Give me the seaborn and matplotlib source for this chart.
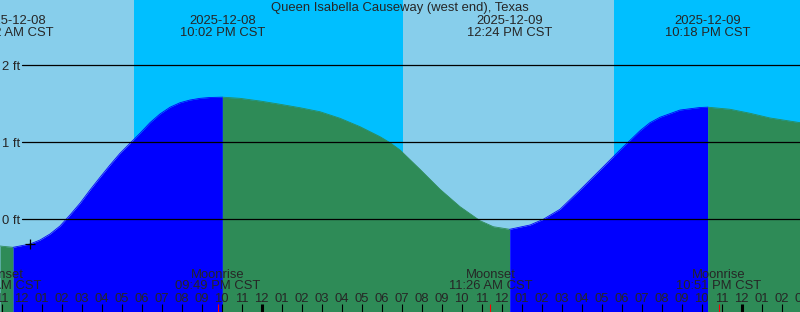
import numpy as np
import pandas as pd
import matplotlib
matplotlib.use("Agg")
import matplotlib.pyplot as plt
import matplotlib.transforms as mtransforms
import seaborn as sns

# ---------------- data ----------------
title = "Queen Isabella Causeway (west end), Texas"

# time axis: hours since 2025-12-08 12:00 PM CST
tide_hours = [-1.085, -0.43, 0.415, 0.915, 1.415, 1.915, 2.415, 2.915, 3.415, 3.915,
              4.415, 4.915, 5.415, 5.915, 6.415, 6.915, 7.415, 7.915, 8.415, 8.915,
              9.415, 10.033, 10.915, 11.915, 12.915, 13.915, 14.915, 15.915, 16.915,
              17.915, 18.415, 18.915, 19.915, 20.915, 21.915, 22.915, 23.58, 24.4,
              25.415, 26.08, 26.915, 27.915, 28.915, 29.915, 30.415, 30.915, 31.415,
              31.915, 32.915, 33.915, 34.3, 35.415, 36.415, 37.415, 38.915]
tide_feet = [-0.347, -0.364, -0.321, -0.269, -0.191, -0.087, 0.056, 0.208, 0.381, 0.545,
             0.705, 0.857, 0.987, 1.117, 1.255, 1.368, 1.455, 1.514, 1.549, 1.571,
             1.582, 1.586, 1.571, 1.536, 1.494, 1.449, 1.397, 1.312, 1.203,
             1.073, 0.995, 0.900, 0.649, 0.390, 0.164, -0.018, -0.096, -0.130,
             -0.074, 0.000, 0.130, 0.381, 0.640, 0.900, 1.025, 1.150, 1.255,
             1.325, 1.419, 1.452, 1.456, 1.429, 1.377, 1.316, 1.255]

# tide extreme labels (low, high, low, high)
extreme_hours = [-0.47, 10.033, 24.4, 34.3]
extreme_dates = ["2025-12-08", "2025-12-08", "2025-12-09", "2025-12-09"]
extreme_times = ["11:32 AM CST", "10:02 PM CST", "12:24 PM CST", "10:18 PM CST"]

# sun: sunset, sunrise, sunset
sunset_hours = [5.615, 29.615]
sunrise_hours = [19.065]

# moon events
moon_hours = [-1.133, 9.817, 23.433, 34.85]
moon_names = ["Moonset", "Moonrise", "Moonset", "Moonrise"]
moon_times = ["10:52 AM CST", "09:49 PM CST", "11:26 AM CST", "10:51 PM CST"]

level_feet = [0, 1, 2]
level_labels = ["0 ft", "1 ft", "2 ft"]

now_hour, now_feet = 0.415, -0.327

# ---------------- style ----------------
sns.set_style("white")
plt.rcParams["font.family"] = ["Liberation Sans", "DejaVu Sans"]
FS = 9.4
DAY, NIGHT = "#87CEEB", "#00BFFF"
RISE, FALL = "#0000FF", "#2E8B57"

W, H = 800, 312
fig = plt.figure(figsize=(W / 100, H / 100), dpi=100)
ax = fig.add_axes([0, 0, 1, 1])
xmin, xmax = -1.085, 38.915
ymin, ymax = -1.2039, 2.848
ax.set_xlim(xmin, xmax)
ax.set_ylim(ymin, ymax)
ax.axis("off")

def yfrac(py):
    return 1 - py / H

trans = mtransforms.blended_transform_factory(ax.transData, ax.transAxes)

# day/night background
bounds = [xmin] + sorted(sunset_hours + sunrise_hours) + [xmax]
is_night = False
for a, b in zip(bounds[:-1], bounds[1:]):
    ax.axvspan(a, b, color=NIGHT if is_night else DAY, lw=0, zorder=0)
    is_night = not is_night

# tide curve split into rising / falling segments
t = np.array(tide_hours)
h = np.array(tide_feet)
d = np.sign(np.diff(h))
breaks = [0] + [i for i in range(1, len(d)) if d[i] != d[i - 1]] + [len(h) - 1]
rows = []
for k, (i0, i1) in enumerate(zip(breaks[:-1], breaks[1:])):
    phase = "rise" if h[i1] > h[i0] else "fall"
    ax.fill_between(t[i0:i1 + 1], h[i0:i1 + 1], ymin, color=RISE if phase == "rise" else FALL,
                    lw=0, zorder=1)
    for j in range(i0, i1 + 1):
        rows.append({"hour": t[j], "feet": h[j], "phase": phase, "seg": k})
df = pd.DataFrame(rows)
sns.lineplot(data=df, x="hour", y="feet", hue="phase", units="seg", estimator=None,
             palette={"rise": RISE, "fall": FALL}, lw=0.6, legend=False, ax=ax, zorder=2)
ax.set_xlim(xmin, xmax)
ax.set_ylim(ymin, ymax)

# level lines
for lv, lab in zip(level_feet, level_labels):
    ax.axhline(lv, xmin=21.7 / W, xmax=1, color="black", lw=0.9, zorder=3)
    py = 219.3 - lv * 77
    ax.text(2.5 / W, yfrac(py + 4.5), lab, transform=ax.transAxes, fontsize=FS,
            ha="left", va="baseline", zorder=4)

# current-time marker
ax.plot([now_hour], [now_feet], marker="+", color="black", ms=7, mew=0.9, zorder=4)

# title
ax.text(0.5, yfrac(11.3), title, transform=ax.transAxes, fontsize=FS, ha="center",
        va="baseline", zorder=5)

# tide extreme labels
for xh, ds, ts in zip(extreme_hours, extreme_dates, extreme_times):
    ax.text(xh, yfrac(24), ds, transform=trans, fontsize=FS, ha="center", va="baseline", zorder=5)
    ax.text(xh, yfrac(36), ts, transform=trans, fontsize=FS, ha="center", va="baseline", zorder=5)

# moon labels
for xh, nm, ts in zip(moon_hours, moon_names, moon_times):
    ax.text(xh, yfrac(278.3), nm, transform=trans, fontsize=FS, ha="center", va="baseline", zorder=5)
    ax.text(xh, yfrac(289.3), ts, transform=trans, fontsize=FS, ha="center", va="baseline", zorder=5)

# hour ticks and labels
for hr in range(int(np.floor(xmin)), int(np.ceil(xmax)) + 1):
    clock = (12 + hr) % 24
    lab = f"{(clock % 12) or 12:02d}"
    ax.text(hr, yfrac(301.5), lab, transform=trans, fontsize=FS, ha="center", va="baseline", zorder=5)
    lw = 2.2 if clock == 0 else 0.8
    ax.plot([hr, hr], [0, 8 / H], transform=trans, color="black", lw=lw, zorder=5,
            solid_capstyle="butt")
for xh in moon_hours:
    ax.plot([xh, xh], [0, 8 / H], transform=trans, color="red", lw=0.8, zorder=6,
            solid_capstyle="butt")

fig.savefig("out.png", dpi=100)
